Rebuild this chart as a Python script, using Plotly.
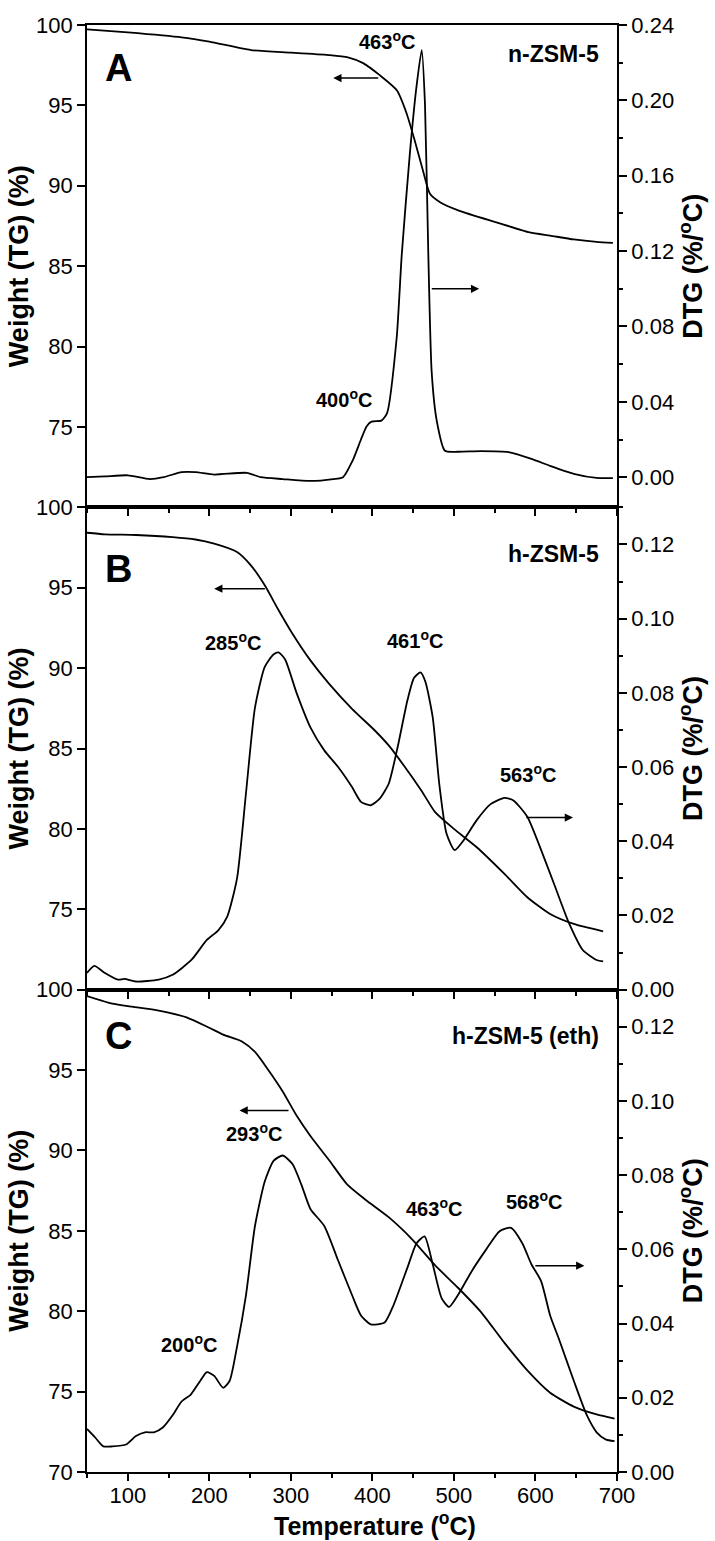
import plotly.graph_objects as go

# ---------------- data ----------------
# Panel A: n-ZSM-5
temp_a_tg = [50, 100, 166, 200, 251, 300, 348, 370, 388.6, 409, 430, 442, 452, 462, 470.6, 483, 506, 552, 593, 618, 647, 675, 695]
tg_a = [99.73, 99.54, 99.23, 98.96, 98.44, 98.28, 98.13, 97.99, 97.63, 96.88, 95.94, 94.5, 92.8, 90.95, 89.5, 88.98, 88.46, 87.73, 87.1, 86.9, 86.66, 86.51, 86.45]
temp_a_dtg = [50, 72, 100, 127, 144, 166, 183, 206, 246, 263, 290, 324, 352, 364, 376, 386, 393, 399, 411, 418, 429.8, 436, 446, 454, 460.5, 464.5, 468.6, 472.7, 478.9, 489, 505, 533, 567, 595, 618, 647, 675, 695]
dtg_a = [0.000, 0.0004, 0.001, -0.001, 0.0, 0.0027, 0.0027, 0.0014, 0.0023, 0.0, -0.001, -0.002, -0.001, 0.000, 0.009, 0.020, 0.027, 0.0295, 0.030, 0.034, 0.074, 0.118, 0.172, 0.207, 0.2267, 0.198, 0.118, 0.056, 0.030, 0.014, 0.0135, 0.0138, 0.0133, 0.0097, 0.006, 0.0018, -0.0004, -0.0005]

# Panel B: h-ZSM-5
temp_b_tg = [50, 72, 110, 155, 183, 206, 234, 251, 268, 285, 302, 324, 347, 375, 403, 420, 437, 460, 477, 500, 528, 562, 590, 618, 647, 683]
tg_b = [98.42, 98.32, 98.28, 98.15, 98.0, 97.74, 97.22, 96.39, 95.15, 93.6, 92.14, 90.48, 89.02, 87.47, 86.12, 85.19, 84.05, 82.39, 81.04, 80.0, 78.86, 77.2, 75.75, 74.71, 74.09, 73.63]
temp_b_dtg = [50, 59, 72, 88, 96, 110, 138, 155, 178, 197, 211, 222, 234, 245, 256, 268, 279, 285, 293, 307, 324, 341, 358, 375, 386, 398, 409, 420, 431, 443, 451, 459, 465, 474, 482, 491, 501, 511, 528, 545, 562, 573, 590, 607, 624, 641, 658, 675, 683]
dtg_b = [0.0045, 0.0064, 0.0045, 0.0027, 0.0029, 0.0022, 0.0027, 0.004, 0.008, 0.0134, 0.016, 0.0197, 0.030, 0.053, 0.076, 0.087, 0.0904, 0.0909, 0.089, 0.080, 0.0707, 0.0645, 0.060, 0.0546, 0.0506, 0.0497, 0.0515, 0.0555, 0.0654, 0.078, 0.084, 0.0855, 0.083, 0.0734, 0.0555, 0.042, 0.0376, 0.040, 0.0457, 0.050, 0.0517, 0.051, 0.0466, 0.0376, 0.0278, 0.018, 0.0107, 0.008, 0.0076]

# Panel C: h-ZSM-5 (eth)
temp_c_tg = [50, 76, 100, 138, 172, 200, 217, 240, 256, 273, 290, 307, 324, 347, 369, 392, 420, 449, 477, 505, 533, 562, 590, 618, 647, 675, 697]
tg_c = [99.6, 99.2, 98.98, 98.7, 98.28, 97.63, 97.2, 96.78, 96.13, 94.96, 93.67, 92.17, 90.9, 89.39, 87.89, 86.92, 85.85, 84.46, 82.85, 81.46, 79.96, 78.03, 76.32, 74.93, 74.07, 73.58, 73.32]
temp_c_dtg = [50, 60, 70, 81, 98, 110, 121, 132, 143, 155, 166, 177, 189, 197, 206, 217, 225, 234, 245, 256, 268, 279, 290, 302, 313, 324, 341, 358, 375, 386, 398, 415, 426, 443, 454, 464, 474, 485, 494, 505, 522, 539, 556, 570, 584, 595, 607, 618, 629, 647, 663, 675, 686, 697]
dtg_c = [0.0116, 0.0093, 0.0069, 0.0069, 0.0074, 0.0097, 0.0107, 0.0107, 0.012, 0.0153, 0.019, 0.0208, 0.0246, 0.0269, 0.0259, 0.0227, 0.0246, 0.0338, 0.0477, 0.0663, 0.0783, 0.0839, 0.0853, 0.083, 0.0774, 0.0709, 0.0663, 0.057, 0.0477, 0.0422, 0.0398, 0.0403, 0.045, 0.0551, 0.0616, 0.0635, 0.056, 0.0468, 0.0445, 0.0477, 0.0542, 0.0598, 0.0649, 0.0658, 0.0616, 0.056, 0.0514, 0.0422, 0.0357, 0.0246, 0.0153, 0.0107, 0.0088, 0.0083]

# axis ticks
x_ticks = [100, 200, 300, 400, 500, 600, 700]
tg_ticks_ab = [75, 80, 85, 90, 95, 100]
tg_ticks_c = [70, 75, 80, 85, 90, 95, 100]
dtg_ticks_a = [0.00, 0.04, 0.08, 0.12, 0.16, 0.20, 0.24]
dtg_ticks_bc = [0.00, 0.02, 0.04, 0.06, 0.08, 0.10, 0.12]

# peak labels: (text, temperature, dtg value)
peaks_a = [("463<sup>o</sup>C", 418, 0.232), ("400<sup>o</sup>C", 365, 0.0416)]
peaks_b = [("285<sup>o</sup>C", 229, 0.0939), ("461<sup>o</sup>C", 452, 0.0944), ("563<sup>o</sup>C", 591, 0.0583)]
peaks_c = [("293<sup>o</sup>C", 255, 0.0916), ("200<sup>o</sup>C", 175, 0.0346), ("463<sup>o</sup>C", 475, 0.0714), ("568<sup>o</sup>C", 598, 0.0731)]

# ---------------- figure ----------------
FONT = "Liberation Sans, Arial, sans-serif"
BLACK = "#000000"
LW = 1.8

fig = go.Figure()
panels = [
    ("x", "y", "y2", temp_a_tg, tg_a, temp_a_dtg, dtg_a),
    ("x2", "y3", "y4", temp_b_tg, tg_b, temp_b_dtg, dtg_b),
    ("x3", "y5", "y6", temp_c_tg, tg_c, temp_c_dtg, dtg_c),
]
for xa, yl, yr, tt, tv, dt, dv in panels:
    fig.add_trace(go.Scatter(x=tt, y=tv, xaxis=xa, yaxis=yl, mode="lines",
                             line=dict(color=BLACK, width=LW, shape="spline", smoothing=0.6),
                             showlegend=False, hoverinfo="skip"))
    fig.add_trace(go.Scatter(x=dt, y=dv, xaxis=xa, yaxis=yr, mode="lines",
                             line=dict(color=BLACK, width=LW, shape="spline", smoothing=0.6),
                             showlegend=False, hoverinfo="skip"))

tickfont = dict(family=FONT, size=22, color=BLACK)
titlefont = dict(family=FONT, size=27, color=BLACK, weight="bold")


def xaxis(anchor, show_labels):
    return dict(domain=[0, 1], anchor=anchor, range=[50, 700], tickvals=x_ticks,
                ticks="outside", ticklen=7, tickwidth=1.6, tickcolor=BLACK,
                minor=dict(dtick=50, tick0=0, ticks="outside", ticklen=4, tickwidth=1.6, tickcolor=BLACK),
                showline=True, linewidth=1.8, linecolor=BLACK, mirror=True,
                showgrid=False, zeroline=False, showticklabels=show_labels, tickfont=tickfont,
                ticklabelstandoff=-4)


def yleft(domain, anchor, tv):
    return dict(domain=domain, anchor=anchor, range=[70, 100], tickvals=tv,
                ticktext=[str(v) for v in tv],
                ticks="outside", ticklen=8, tickwidth=1.6, tickcolor=BLACK,
                showline=True, linewidth=1.8, linecolor=BLACK,
                showgrid=False, zeroline=False, tickfont=tickfont,
                title=dict(text="Weight (TG) (%)", font=titlefont, standoff=0))


def yright(overlay, anchor, rng, tv, minor_step):
    return dict(overlaying=overlay, anchor=anchor, side="right", range=rng, tickvals=tv,
                ticktext=["%.2f" % v for v in tv],
                ticks="outside", ticklen=8, tickwidth=1.6, tickcolor=BLACK,
                minor=dict(dtick=minor_step, tick0=0, ticks="outside", ticklen=4, tickwidth=1.6, tickcolor=BLACK),
                showline=True, linewidth=1.8, linecolor=BLACK,
                showgrid=False, zeroline=False, tickfont=tickfont,
                title=dict(text="DTG (%/<sup>o</sup>C)", font=titlefont, standoff=10))


d = 1.0 / 3.0
fig.update_layout(
    width=715, height=1541,
    margin=dict(l=87, r=98, t=25, b=69),
    paper_bgcolor="white", plot_bgcolor="white",
    font=dict(family=FONT, color=BLACK),
    xaxis=xaxis("y", False),
    xaxis2=xaxis("y3", False),
    xaxis3=xaxis("y5", True),
    yaxis=yleft([2 * d, 1], "x", tg_ticks_ab),
    yaxis2=yright("y", "x", [-0.016, 0.24], dtg_ticks_a, 0.02),
    yaxis3=yleft([d, 2 * d], "x2", tg_ticks_ab),
    yaxis4=yright("y3", "x2", [0, 0.13], dtg_ticks_bc, 0.01),
    yaxis5=yleft([0, d], "x3", tg_ticks_c),
    yaxis6=yright("y5", "x3", [0, 0.13], dtg_ticks_bc, 0.01),
)

ann = []
# x-axis title (placed as in the reference, slightly right of centre)
ann.append(dict(text="Temperature (<sup>o</sup>C)", x=0.5434, y=-0.0357, xref="paper", yref="paper",
                showarrow=False, font=dict(family=FONT, size=25, color=BLACK, weight="bold"),
                xanchor="center", yanchor="middle"))

labfont = dict(family=FONT, size=20, color=BLACK, weight="bold")
for (peaks, xa, yr) in [(peaks_a, "x", "y2"), (peaks_b, "x2", "y4"), (peaks_c, "x3", "y6")]:
    for txt, t, v in peaks:
        ann.append(dict(text=txt, x=t, y=v, xref=xa, yref=yr, showarrow=False,
                        font=labfont, xanchor="center", yanchor="middle"))

# panel letters and sample names
letter_font = dict(family=FONT, size=38, color=BLACK, weight="bold")
name_font = dict(family=FONT, size=23, color=BLACK, weight="bold")
for letter, name, xa, yr, yl_, yn in [("A", "n-ZSM-5", "x", "y2", 0.217, 0.2246),
                                       ("B", "h-ZSM-5", "x2", "y4", 0.1133, 0.1173),
                                       ("C", "h-ZSM-5 (eth)", "x3", "y6", 0.1174, 0.1174)]:
    ann.append(dict(text=letter, x=89, y=yl_, xref=xa, yref=yr, showarrow=False,
                    font=letter_font, xanchor="center", yanchor="middle"))
    ann.append(dict(text=name, x=680, y=yn, xref=xa, yref=yr, showarrow=False,
                    font=name_font, xanchor="right", yanchor="middle"))

# arrows pointing to the relevant axis: (xref, yref, tail_T, head_T, y)
arrows = [("x", "y", 409, 352, 96.7), ("x", "y2", 471, 531, 0.100),
          ("x2", "y3", 270, 206, 94.94), ("x2", "y4", 587, 646, 0.0464),
          ("x3", "y5", 299, 237, 92.49), ("x3", "y6", 598, 660, 0.0556)]
for xa, ya, t0, t1, yv in arrows:
    ann.append(dict(x=t1, y=yv, ax=t0, ay=yv, xref=xa, yref=ya, axref=xa, ayref=ya,
                    text="", showarrow=True, arrowhead=2, arrowsize=1.1, arrowwidth=1.5,
                    arrowcolor=BLACK))

fig.update_layout(annotations=ann)
fig.write_html("out.html", config={"displayModeBar": False},
               post_script="document.body.style.margin='0';document.body.style.overflow='hidden';")
